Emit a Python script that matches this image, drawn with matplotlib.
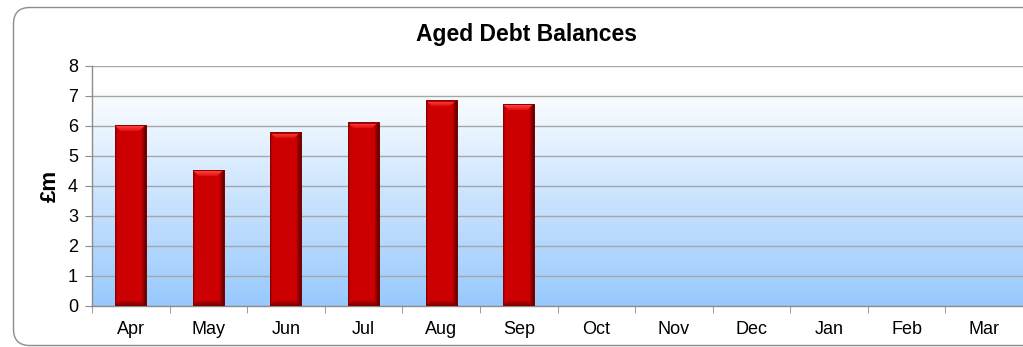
import numpy as np
import matplotlib
matplotlib.use("Agg")
import matplotlib.pyplot as plt
from matplotlib.patches import FancyBboxPatch
from matplotlib.colors import to_rgb

months = ["Apr", "May", "Jun", "Jul", "Aug", "Sep", "Oct", "Nov", "Dec", "Jan", "Feb", "Mar"]
balances = [6.03, 4.52, 5.78, 6.11, 6.85, 6.73]
title = "Aged Debt Balances"
ylabel = "£m"

plt.rcParams['font.family'] = ['Liberation Sans', 'DejaVu Sans']

W, H, DPI = 1023, 347, 100
fig = plt.figure(figsize=(W / DPI, H / DPI), dpi=DPI)
fig.patch.set_facecolor("white")

# rounded chart frame (runs off the right edge)
frame = FancyBboxPatch((13.5 / W, 1.5 / H), (W + 40) / W, (H - 9) / H,
                       boxstyle="round,pad=0,rounding_size=0.016",
                       transform=fig.transFigure, facecolor="none",
                       edgecolor="#8c8c8c", linewidth=1.0, clip_on=False,
                       mutation_aspect=W / H)
fig.patches.append(frame)

ax_left, ax_bottom = 92 / W, (H - 306) / H
ax_w, ax_h = (W - 92) / W, (306 - 66) / H
ax = fig.add_axes([ax_left, ax_bottom, ax_w, ax_h])

# plot-area gradient (white at top to light blue at bottom)
top_c = np.array(to_rgb("#ffffff"))
bot_c = np.array(to_rgb("#97c9fd"))
t = np.linspace(0, 1, 256)[:, None]
t = np.clip((t - 0.08) / 0.92, 0, 1)
grad = top_c[None, :] * (1 - t) + bot_c[None, :] * t
grad = grad[:, None, :].repeat(2, axis=1)
ax.imshow(grad, extent=(0, 1, 0, 1), transform=ax.transAxes, aspect="auto",
          zorder=0, interpolation="bilinear")

ax.set_xlim(-0.5, len(months) - 0.5)
ax.set_ylim(0, 8)
ax.set_yticks(range(0, 9))
ax.grid(axis="y", color="#a6a6a6", linewidth=1.0, zorder=1)
ax.set_axisbelow(True)

bar_w = 0.40
px_per_unit = (306 - 66) / 8.0
bar_px = int(round(bar_w * (W - 92) / len(months)))


def bevel_texture(h_px, w_px):
    base = np.array(to_rgb("#cc0000"))
    img = np.ones((h_px, w_px, 3)) * base
    # side shading: light rim on the left, deep shadow on the right
    for i in range(2):
        img[:, i] = base * (0.80 + 0.08 * i)
    for i in range(5):
        img[:, w_px - 1 - i] = base * (0.38 + 0.12 * i)
    # top bevel: bright trapezoid
    tb = min(6, h_px // 3)
    img[0, :] = np.array(to_rgb("#9a0000"))
    hi_top = np.array(to_rgb("#ff3b3b"))
    hi_bot = np.array(to_rgb("#e41414"))
    for j in range(1, tb):
        f = (j - 1) / max(tb - 2, 1)
        row = hi_top * (1 - f) + hi_bot * f
        img[j, j:w_px - j - 2] = row
    # bottom bevel: dark trapezoid
    bb = min(5, h_px // 4)
    for j in range(bb):
        img[h_px - 1 - j, j:w_px - j - 2] = base * (0.62 + 0.06 * j)
    return img


for i, v in enumerate(balances):
    h_px = max(int(round(v * px_per_unit)), 4)
    tex = bevel_texture(h_px, bar_px)
    ax.imshow(tex, extent=(i - bar_w / 2, i + bar_w / 2, 0, v), aspect="auto",
              zorder=3, interpolation="bilinear")
    ax.bar(i, v, width=bar_w, facecolor="none", edgecolor="#8a0000",
           linewidth=0.6, zorder=4)

ax.set_xlim(-0.5, len(months) - 0.5)
ax.set_ylim(0, 8)

ax.set_xticks(range(len(months)))
ax.set_xticklabels(months, fontsize=13)
ax.set_xticks(np.arange(-0.5, len(months), 1.0), minor=True)
ax.tick_params(axis="x", which="major", length=0, pad=11)
ax.tick_params(axis="x", which="minor", length=5, color="#8c8c8c", direction="out")
ax.tick_params(axis="y", length=5, color="#8c8c8c", labelsize=13, pad=5)

for s in ("top", "right"):
    ax.spines[s].set_visible(False)
for s in ("left", "bottom"):
    ax.spines[s].set_color("#8c8c8c")
    ax.spines[s].set_linewidth(1.0)

ax.set_ylabel(ylabel, fontsize=16, fontweight="bold", labelpad=5)
fig.text(526 / W, 1 - 34 / H, title, ha="center", va="center",
         fontsize=16.5, fontweight="bold")

fig.savefig("out.png", dpi=DPI)
